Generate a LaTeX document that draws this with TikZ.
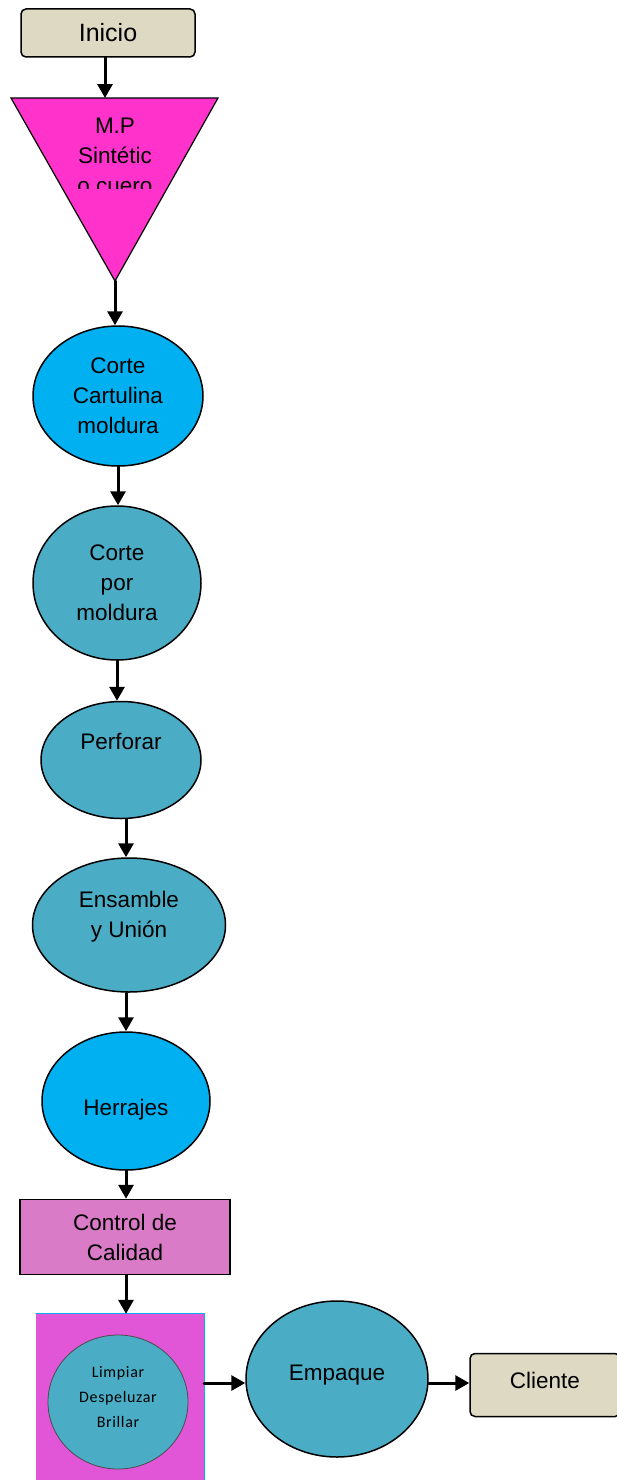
\documentclass[tikz,border=0pt]{standalone}
\usepackage{fontspec}
\setmainfont{Liberation Sans}
\newfontfamily\circfont[LetterSpace=4]{Carlito}
\usetikzlibrary{arrows.meta,positioning,shapes.geometric}
\definecolor{beige}{HTML}{DDD9C3}
\definecolor{fucsia}{HTML}{FF33CC}
\definecolor{celeste}{HTML}{00B0F0}
\definecolor{turquesa}{HTML}{4BACC6}
\definecolor{lila}{HTML}{DA7BC8}
\definecolor{magenta2}{HTML}{E056D6}
\begin{document}
\begin{tikzpicture}[x=1pt,y=-1pt,line cap=round,
    texto/.style={font=\fontsize{22.5}{30}\selectfont,align=center},
    proceso/.style={ellipse,draw=black,line width=1.5pt,inner sep=0pt,texto},
    caja/.style={rectangle,draw=black,line width=1.5pt,inner sep=0pt,texto},
    terminal/.style={caja,rounded corners=5pt,fill=beige},
    flecha/.style={line width=3pt,-{Triangle[length=14pt,width=15pt]}}]
  \useasboundingbox (0,0) rectangle (616,1480);
  % --- inicio y materia prima ---
  \node[terminal,minimum width=174pt,minimum height=48pt,font=\fontsize{25}{30}\selectfont] (inicio) at (108,33) {Inicio};
  \coordinate (triA) at (11,98);
  \coordinate (triB) at (218,98);
  \coordinate (triC) at (115,281);
  \draw[fill=fucsia,line width=1.2pt,line join=miter] (triA) -- (triB) -- (triC) -- cycle;
  \begin{scope}
    \clip (11,98) rectangle (218,188);
    \node[texto] (mp) at (115,156) {M.P\\Sintétic\\o cuero};
  \end{scope}
  % --- procesos ---
  \node[proceso,fill=celeste,minimum width=170pt,minimum height=140pt] (cartulina) at (118,396) {Corte\\Cartulina\\moldura};
  \node[proceso,fill=turquesa,minimum width=168pt,minimum height=154pt] (moldura) at (117,583) {Corte\\por\\moldura};
  \node[proceso,fill=turquesa,minimum width=160pt,minimum height=117pt] (perforar) at (121,760) {Perforar\\[8pt]\mbox{}};
  \node[proceso,fill=turquesa,minimum width=193pt,minimum height=134pt] (ensamble) at (129,925) {Ensamble\\y Unión\\[-8pt]\mbox{}};
  \node[proceso,fill=celeste,minimum width=168pt,minimum height=138pt,text height=34pt] (herrajes) at (126,1101) {Herrajes};
  \node[caja,fill=lila,minimum width=210pt,minimum height=75pt] (calidad) at (125,1237) {Control de\\Calidad};
  % --- acabado ---
  \node[rectangle,fill=magenta2,inner sep=0pt,minimum width=168pt,minimum height=166pt] (acabado) at (120,1397) {};
  \draw[celeste,line width=0.8pt] (acabado.south east) -- (acabado.north east) -- (acabado.north west);
  \node[ellipse,draw=black!70,line width=0.8pt,fill=turquesa,inner sep=0pt,minimum width=140pt,minimum height=134pt,
        font=\circfont\fontsize{16}{25}\selectfont,align=center] (limpiar) at (118,1402) {Limpiar\\Despeluzar\\Brillar\\[-15pt]\mbox{}};
  \node[proceso,fill=turquesa,minimum width=182pt,minimum height=156pt] (empaque) at (337,1379) {Empaque\\[-18pt]\mbox{}};
  \node[terminal,minimum width=150pt,minimum height=63pt] (cliente) at (545,1385) {Cliente\\[-20pt]\mbox{}};
  % --- flechas ---
  \draw[flecha] (inicio.south -| 105,0) -- (105,98);
  \draw[flecha] (triC) -- (triC |- cartulina.north);
  \draw[flecha] (cartulina.south) -- (cartulina.south |- moldura.north);
  \draw[flecha] (moldura.south) -- (moldura.south |- perforar.north);
  \draw[flecha] ([xshift=5pt]perforar.south) -- ([xshift=-3pt]ensamble.north);
  \draw[flecha] (herrajes.north |- ensamble.south) -- (herrajes.north);
  \draw[flecha] (herrajes.south) -- (herrajes.south |- calidad.north);
  \draw[flecha] ([xshift=1pt]calidad.south) -- ([xshift=1pt]calidad.south |- acabado.north);
  \draw[flecha] (acabado.east |- 0,1383) -- (empaque.west |- 0,1383);
  \draw[flecha] (empaque.east |- 0,1383) -- (cliente.west |- 0,1383);
\end{tikzpicture}
\end{document}
